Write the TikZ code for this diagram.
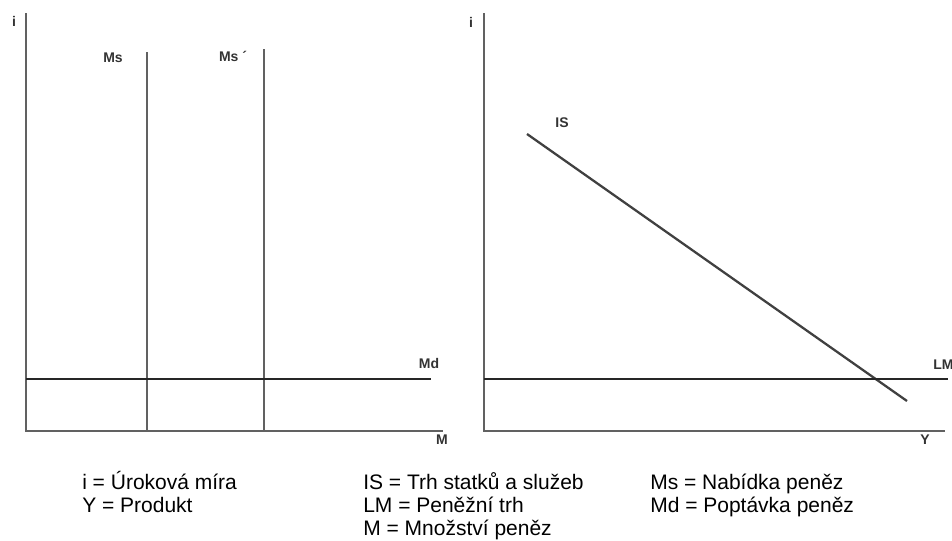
\documentclass[tikz,border=0pt]{standalone}
\usepackage{fontspec}
\setmainfont{Liberation Sans}
\begin{document}
\begin{tikzpicture}[x=0.75pt,y=-0.75pt,
  axis/.style={draw=black!62,line width=1.7pt},
  supply/.style={draw=black!62,line width=1.6pt},
  curve/.style={draw=black!85,line width=1.4pt},
  slope/.style={draw=black!75,line width=1.7pt},
  lab/.style={font=\fontsize{10.5}{12}\selectfont\bfseries,text=black!80,inner sep=0pt},
  legend/.style={font=\fontsize{15.75}{18}\selectfont,anchor=base west,inner sep=0pt}]
\useasboundingbox[fill=white] (0,0) rectangle (952,540);
% left panel
\coordinate (Lo) at (26,431);
\coordinate (Ltop) at (26,13);
\coordinate (Lend) at (443,431);
\coordinate (Ms1t) at (147,52);
\coordinate (Ms1b) at (147,431);
\coordinate (Ms2t) at (264,49);
\coordinate (Ms2b) at (264,431);
\coordinate (Mda) at (26,379);
\coordinate (Mdb) at (431,379);
\draw[axis] (Ltop) -- (Lo) -- (Lend);
\draw[supply] (Ms1t) -- (Ms1b);
\draw[supply] (Ms2t) -- (Ms2b);
\draw[curve] (Mda) -- (Mdb);
\node[lab] (li) at (14,21) {i};
\node[lab] (lms) at (113,58) {Ms};
\node[lab] (lms2) at (233,56) {Ms ´};
\node[lab] (lmd) at (429,363) {Md};
\node[lab] (lm) at (442,440) {M};
% right panel
\coordinate (Ro) at (484,431);
\coordinate (Rtop) at (484,13);
\coordinate (Rend) at (945,431);
\coordinate (ISa) at (527,134);
\coordinate (ISb) at (907,401);
\coordinate (LMa) at (484,379);
\coordinate (LMb) at (948,379);
\draw[axis] (Rtop) -- (Ro) -- (Rend);
\draw[slope] (ISa) -- (ISb);
\draw[curve] (LMa) -- (LMb);
\node[lab] (ri) at (471,22) {i};
\node[lab] (ris) at (562,123) {IS};
\node[lab,anchor=west] (rlm) at (933,365) {LM};
\node[lab] (ry) at (925,440) {Y};
% legend
\node[legend] (g1a) at (82,489) {i = Úroková míra};
\node[legend] (g1b) at (82,512) {Y = Produkt};
\node[legend] (g2a) at (363,489) {IS = Trh statků a služeb};
\node[legend] (g2b) at (363,512) {LM = Peněžní trh};
\node[legend] (g2c) at (363,535) {M = Množství peněz};
\node[legend] (g3a) at (650,489) {Ms = Nabídka peněz};
\node[legend] (g3b) at (650,512) {Md = Poptávka peněz};
\end{tikzpicture}
\end{document}
